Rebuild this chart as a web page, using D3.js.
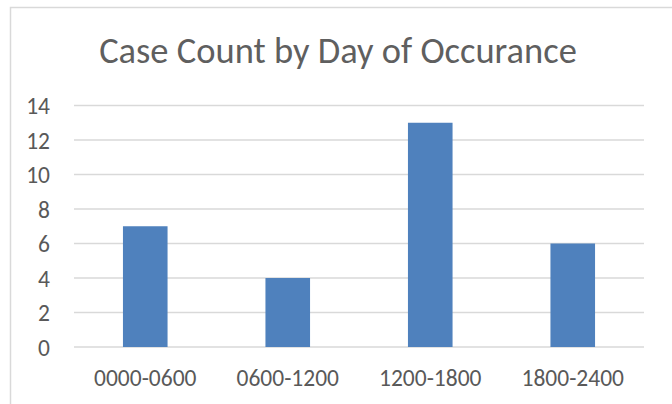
<!DOCTYPE html>
<html>
<head>
<meta charset="utf-8">
<script src="https://cdn.jsdelivr.net/npm/d3@7"></script>
<style>
  body { margin: 0; background: #fff; }
  text { font-family: Calibri, Carlito, "Liberation Sans", sans-serif; fill: #595959; }
</style>
</head>
<body>
<svg id="chart" width="672" height="404"></svg>
<script>
const categories = ["0000-0600", "0600-1200", "1200-1800", "1800-2400"];
const counts = [7, 4, 13, 6];
const yTicks = [0, 2, 4, 6, 8, 10, 12, 14];
const title = "Case Count by Day of Occurance";

const svg = d3.select("#chart");

// outer chart frame, runs off the right and bottom edges
svg.append("rect")
  .attr("x", 10.5)
  .attr("y", 7.5)
  .attr("width", 800)
  .attr("height", 600)
  .attr("fill", "none")
  .attr("stroke", "#d9d9d9")
  .attr("stroke-width", 1.5);

const x = d3.scaleBand()
  .domain(categories)
  .range([74, 644])
  .paddingInner(0.687)
  .paddingOuter(0.3435);

const y = d3.scaleLinear()
  .domain([0, 14])
  .range([347, 105.5]);

svg.append("text")
  .attr("x", 338)
  .attr("y", 63)
  .attr("text-anchor", "middle")
  .style("font-size", "36.5px")
  .style("fill", "#5f5f5f")
  .text(title);

// gridlines
svg.append("g")
  .selectAll("line")
  .data(yTicks)
  .enter()
  .append("line")
  .attr("x1", 74)
  .attr("x2", 644)
  .attr("y1", d => y(d))
  .attr("y2", d => y(d))
  .attr("stroke", "#d9d9d9")
  .attr("stroke-width", 1.5);

// y axis labels
const yAxis = svg.append("g")
  .attr("transform", "translate(50,0)")
  .call(d3.axisLeft(y).tickValues(yTicks).tickSize(0).tickPadding(0));
yAxis.select(".domain").remove();
yAxis.selectAll("text")
  .style("font-size", "23.5px")
  .attr("fill", "#595959")
  .attr("dy", "0.34em");

// bars
svg.append("g")
  .selectAll("rect")
  .data(counts)
  .enter()
  .append("rect")
  .attr("x", (d, i) => x(categories[i]))
  .attr("y", d => y(d))
  .attr("width", x.bandwidth())
  .attr("height", d => y(0) - y(d))
  .attr("fill", "#4f81bd");

// x axis labels
const xAxis = svg.append("g")
  .attr("transform", "translate(0,347)")
  .call(d3.axisBottom(x).tickSize(0).tickPadding(0));
xAxis.select(".domain").remove();
xAxis.selectAll("text")
  .style("font-size", "23.5px")
  .attr("fill", "#595959")
  .attr("dy", "39px");
</script>
</body>
</html>
